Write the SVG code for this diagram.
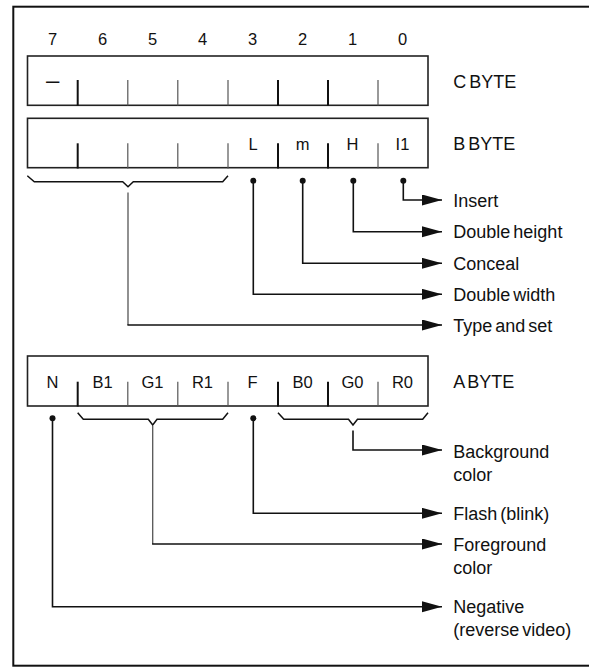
<svg xmlns="http://www.w3.org/2000/svg" width="589" height="667" viewBox="0 0 589 667">
<style>
text{font-family:"Liberation Sans",Arial,sans-serif;fill:#111}
.num{font-size:16.5px;text-anchor:middle}
.bit{font-size:16.5px;text-anchor:middle}
.lbl{font-size:18px;word-spacing:-2px}
.box{fill:none;stroke:#222;stroke-width:1.6}
.tk{stroke:#111;stroke-width:2}
.tn{stroke:#555;stroke-width:1.2}
.br{fill:none;stroke:#111;stroke-width:1.5}
.cn{fill:none;stroke:#111;stroke-width:1.6}
.cg{fill:none;stroke:#555;stroke-width:1.3}
.dot{fill:#111}
</style>
<defs>
<marker id="ah" markerUnits="userSpaceOnUse" markerWidth="21" markerHeight="12" refX="20" refY="5.5" orient="auto">
<path d="M0,0 L20,5.5 L0,11 z" fill="#111"/>
</marker>
</defs>
<rect x="13.3" y="6.7" width="590" height="659" fill="none" stroke="#111" stroke-width="2"/>

<g id="bit-numbers">
<text class="num" x="52.5" y="45">7</text>
<text class="num" x="102.5" y="45">6</text>
<text class="num" x="152.5" y="45">5</text>
<text class="num" x="202.5" y="45">4</text>
<text class="num" x="252.5" y="45">3</text>
<text class="num" x="302.5" y="45">2</text>
<text class="num" x="352.5" y="45">1</text>
<text class="num" x="402.5" y="45">0</text>
</g>

<g id="c-byte">
<rect class="box" x="27.5" y="56" width="400.5" height="49.3"/>
<line class="tk" x1="77.7" y1="80" x2="77.7" y2="105.5"/>
<line class="tn" x1="127.8" y1="80" x2="127.8" y2="105.5"/>
<line class="tn" x1="177.8" y1="80" x2="177.8" y2="105.5"/>
<line class="tn" x1="228" y1="80" x2="228" y2="105.5"/>
<line class="tk" x1="278" y1="80" x2="278" y2="105.5"/>
<line class="tk" x1="328" y1="80" x2="328" y2="105.5"/>
<line class="tn" x1="378" y1="80" x2="378" y2="105.5"/>
<text x="52.7" y="88" style="font-size:24px;text-anchor:middle">–</text>
<text class="lbl" x="453.3" y="88">C BYTE</text>
</g>

<g id="b-byte">
<rect class="box" x="27.5" y="118.3" width="400.5" height="49.4"/>
<line class="tk" x1="77.7" y1="143.3" x2="77.7" y2="168.5"/>
<line class="tn" x1="127.8" y1="143.3" x2="127.8" y2="168.5"/>
<line class="tn" x1="177.8" y1="143.3" x2="177.8" y2="168.5"/>
<line class="tn" x1="228" y1="143.3" x2="228" y2="168.5"/>
<line class="tk" x1="278" y1="143.3" x2="278" y2="168.5"/>
<line class="tk" x1="328" y1="143.3" x2="328" y2="168.5"/>
<line class="tn" x1="378" y1="143.3" x2="378" y2="168.5"/>
<text class="bit" x="253" y="150">L</text>
<text class="bit" x="302.5" y="150">m</text>
<text class="bit" x="352.5" y="150">H</text>
<text class="bit" x="402.5" y="150">I1</text>
<text class="lbl" x="453.3" y="150">B BYTE</text>
<path class="br" d="M27.3,175.7 L34.3,181.7 L122.7,181.7 L128,186.7 L133.3,181.7 L222.7,181.7 L228,175.7"/>
</g>

<g id="a-byte">
<rect class="box" x="27.5" y="356" width="400.5" height="50"/>
<line class="tk" x1="77.7" y1="381.7" x2="77.7" y2="406.5"/>
<line class="tn" x1="127.8" y1="381.7" x2="127.8" y2="406.5"/>
<line class="tn" x1="177.8" y1="381.7" x2="177.8" y2="406.5"/>
<line class="tn" x1="228" y1="381.7" x2="228" y2="406.5"/>
<line class="tk" x1="278" y1="381.7" x2="278" y2="406.5"/>
<line class="tk" x1="328" y1="381.7" x2="328" y2="406.5"/>
<line class="tn" x1="378" y1="381.7" x2="378" y2="406.5"/>
<text class="bit" x="52.5" y="388">N</text>
<text class="bit" x="102.5" y="388">B1</text>
<text class="bit" x="152.5" y="388">G1</text>
<text class="bit" x="202.5" y="388">R1</text>
<text class="bit" x="252.5" y="388">F</text>
<text class="bit" x="302.5" y="388">B0</text>
<text class="bit" x="352.5" y="388">G0</text>
<text class="bit" x="402.5" y="388">R0</text>
<text class="lbl" x="453.3" y="388">A BYTE</text>
<path class="br" d="M77.7,412.7 L83.3,419.3 L148.3,419.3 L152.7,425 L157,419.3 L222.7,419.3 L228,412.7"/>
<path class="br" d="M278,412.7 L284,419.3 L348.5,419.3 L353,425 L357.5,419.3 L422.7,419.3 L428,412.7"/>
</g>

<g id="connectors">
<circle class="dot" cx="403.3" cy="180.7" r="3"/>
<circle class="dot" cx="353.3" cy="180.7" r="3"/>
<circle class="dot" cx="302.7" cy="180.7" r="3"/>
<circle class="dot" cx="253.3" cy="180.7" r="3"/>
<circle class="dot" cx="52.5" cy="418.3" r="3"/>
<circle class="dot" cx="253.3" cy="418.3" r="3"/>
<path class="cn" d="M403.3,180.7 V200 H442" marker-end="url(#ah)"/>
<path class="cn" d="M353.3,180.7 V231.7 H442" marker-end="url(#ah)"/>
<path class="cn" d="M302.7,180.7 V263.3 H442" marker-end="url(#ah)"/>
<path class="cn" d="M253.3,180.7 V294.3 H442" marker-end="url(#ah)"/>
<path class="cg" d="M128,192.5 V325" />
<path class="cn" d="M127.4,325 H442" marker-end="url(#ah)"/>
<path class="cn" d="M353,430.5 V450 H442" marker-end="url(#ah)"/>
<path class="cn" d="M253.3,418.3 V513.3 H442" marker-end="url(#ah)"/>
<path class="cg" d="M152.7,426 V544" />
<path class="cn" d="M152.1,544 H442" marker-end="url(#ah)"/>
<path class="cn" d="M52.5,418.3 V606.7 H442" marker-end="url(#ah)"/>
</g>

<g id="labels">
<text class="lbl" x="453.3" y="206.5">Insert</text>
<text class="lbl" x="453.3" y="238.2">Double height</text>
<text class="lbl" x="453.3" y="269.8">Conceal</text>
<text class="lbl" x="453.3" y="300.8">Double width</text>
<text class="lbl" x="453.3" y="331.5">Type and set</text>
<text class="lbl" x="453.3" y="458.3">Background</text>
<text class="lbl" x="453.3" y="481">color</text>
<text class="lbl" x="453.3" y="519.8">Flash (blink)</text>
<text class="lbl" x="453.3" y="551">Foreground</text>
<text class="lbl" x="453.3" y="574">color</text>
<text class="lbl" x="453.3" y="613">Negative</text>
<text class="lbl" x="453.3" y="636">(reverse video)</text>
</g>
</svg>
